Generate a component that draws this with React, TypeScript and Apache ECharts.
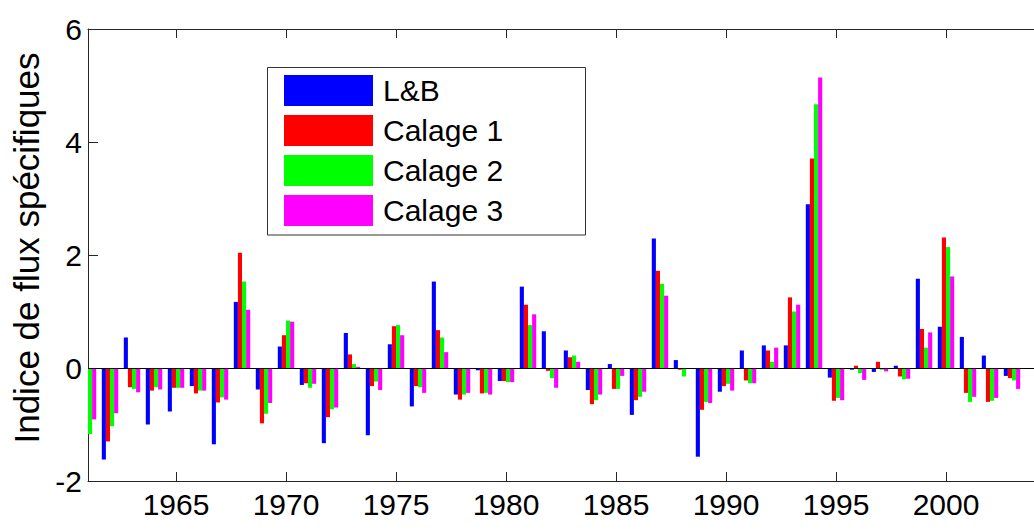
import React, { useEffect, useRef } from "react";
import * as echarts from "echarts";

const years = Array.from({ length: 43 }, (_, i) => 1961 + i);
const seriesNames = ["L&B", "Calage 1", "Calage 2", "Calage 3"];
const colors = ["#0000FF", "#FF0000", "#00FF00", "#FF00FF"];

// 1961 blue and red bars fall outside the plotted range (hidden in the reference)
const lb = [
  null, -1.62, 0.54, -1.0, -0.77, -0.32, -1.35, 1.17, -0.38, 0.38,
  -0.3, -1.33, 0.62, -1.19, 0.42, -0.68, 1.53, -0.47, -0.04, -0.23,
  1.44, 0.65, 0.31, -0.39, 0.07, -0.83, 2.29, 0.14, -1.57, -0.42,
  0.31, 0.4, 0.4, 2.9, -0.17, -0.03, -0.07, 0.04, 1.58, 0.73,
  0.55, 0.22, -0.14,
];
const calage1 = [
  null, -1.3, -0.34, -0.4, -0.35, -0.45, -0.61, 2.04, -0.98, 0.58,
  -0.27, -0.87, 0.24, -0.32, 0.74, -0.32, 0.67, -0.56, -0.45, -0.23,
  1.12, -0.05, 0.19, -0.64, -0.37, -0.57, 1.72, -0.03, -0.74, -0.32,
  -0.22, 0.31, 1.25, 3.71, -0.58, 0.04, 0.11, -0.15, 0.69, 2.31,
  -0.44, -0.6, -0.18,
];
const calage2 = [
  -1.17, -1.03, -0.37, -0.34, -0.35, -0.4, -0.52, 1.53, -0.81, 0.84,
  -0.35, -0.73, 0.07, -0.24, 0.76, -0.34, 0.54, -0.47, -0.44, -0.25,
  0.76, -0.18, 0.22, -0.57, -0.37, -0.51, 1.49, -0.15, -0.6, -0.28,
  -0.27, 0.11, 1.0, 4.67, -0.53, -0.09, -0.03, -0.2, 0.36, 2.14,
  -0.6, -0.58, -0.22,
];
const calage3 = [
  -0.91, -0.8, -0.43, -0.38, -0.35, -0.4, -0.56, 1.03, -0.62, 0.82,
  -0.28, -0.7, 0.02, -0.39, 0.58, -0.44, 0.28, -0.44, -0.47, -0.25,
  0.95, -0.35, 0.11, -0.47, -0.14, -0.42, 1.28, -0.01, -0.62, -0.4,
  -0.27, 0.36, 1.12, 5.14, -0.57, -0.21, -0.06, -0.19, 0.63, 1.62,
  -0.51, -0.53, -0.37,
];
const xTicks = [1965, 1970, 1975, 1980, 1985, 1990, 1995, 2000];
const yTitle = "Indice de flux spécifiques";

const FONT = "'Liberation Sans', Arial, Helvetica, sans-serif";
const AXIS_COLOR = "#262626";

export default function App() {
  const ref = useRef<HTMLDivElement>(null);

  useEffect(() => {
    if (!ref.current) return;
    const chart = echarts.init(ref.current, null, { renderer: "svg" });
    const allValues = [lb, calage1, calage2, calage3];

    const series: any[] = allValues.map((vals, k) => ({
      name: seriesNames[k],
      type: "bar",
      data: years.map((y, i) => [y, vals[i]]),
      barWidth: 4.1,
      barGap: "0%",
      itemStyle: { color: colors[k] },
      emphasis: { disabled: true },
      markLine:
        k === 0
          ? {
              silent: true,
              symbol: "none",
              label: { show: false },
              lineStyle: { color: "#000", width: 1, type: "solid" },
              data: [{ yAxis: 0 }],
            }
          : undefined,
    }));

    const xBase = {
      type: "value",
      min: 1961,
      max: 2004,
      splitLine: { show: false },
      axisLine: { show: true, onZero: false, lineStyle: { color: AXIS_COLOR, width: 1 } },
      axisTick: {
        show: true,
        inside: true,
        length: 9,
        customValues: xTicks,
        lineStyle: { color: AXIS_COLOR, width: 1 },
      },
    };

    chart.setOption({
      animation: false,
      backgroundColor: "#fff",
      grid: { left: 88, right: -11, top: 29, bottom: 49, containLabel: false },
      legend: {
        orient: "vertical",
        left: 284,
        top: 75,
        padding: 0,
        itemWidth: 89,
        itemHeight: 31,
        itemGap: 9,
        icon: "rect",
        data: seriesNames,
        textStyle: { fontSize: 30, fontFamily: FONT, color: "#000", padding: [0, 0, 0, 5] },
        z: 10,
      },
      graphic: [
        {
          type: "rect",
          z: 5,
          shape: { x: 267.5, y: 67.5, width: 318, height: 167.5 },
          style: { fill: "#fff", stroke: "#333", lineWidth: 1 },
        },
        {
          type: "text",
          x: 26,
          y: 248,
          rotation: Math.PI / 2,
          style: {
            text: yTitle,
            fontSize: 35,
            fontFamily: FONT,
            fill: "#000",
            textAlign: "center",
            textVerticalAlign: "middle",
          },
        },
      ],
      xAxis: [
        {
          ...xBase,
          position: "bottom",
          axisLabel: {
            show: true,
            customValues: xTicks,
            formatter: (v: number) => String(v),
            fontSize: 30,
            fontFamily: FONT,
            color: "#000",
            margin: 8,
          },
        },
        {
          ...xBase,
          position: "top",
          axisLabel: { show: false },
        },
      ],
      yAxis: {
        type: "value",
        min: -2,
        max: 6,
        interval: 2,
        splitLine: { show: false },
        axisLine: { show: true, lineStyle: { color: AXIS_COLOR, width: 1 } },
        axisTick: { show: true, inside: true, length: 10, lineStyle: { color: AXIS_COLOR } },
        axisLabel: { fontSize: 30, fontFamily: FONT, color: "#000", margin: 6 },
      },
      series,
    });

    return () => chart.dispose();
  }, []);

  return (
    <div
      ref={ref}
      style={{ position: "absolute", left: 0, top: 0, width: 1034, height: 530 }}
    />
  );
}
